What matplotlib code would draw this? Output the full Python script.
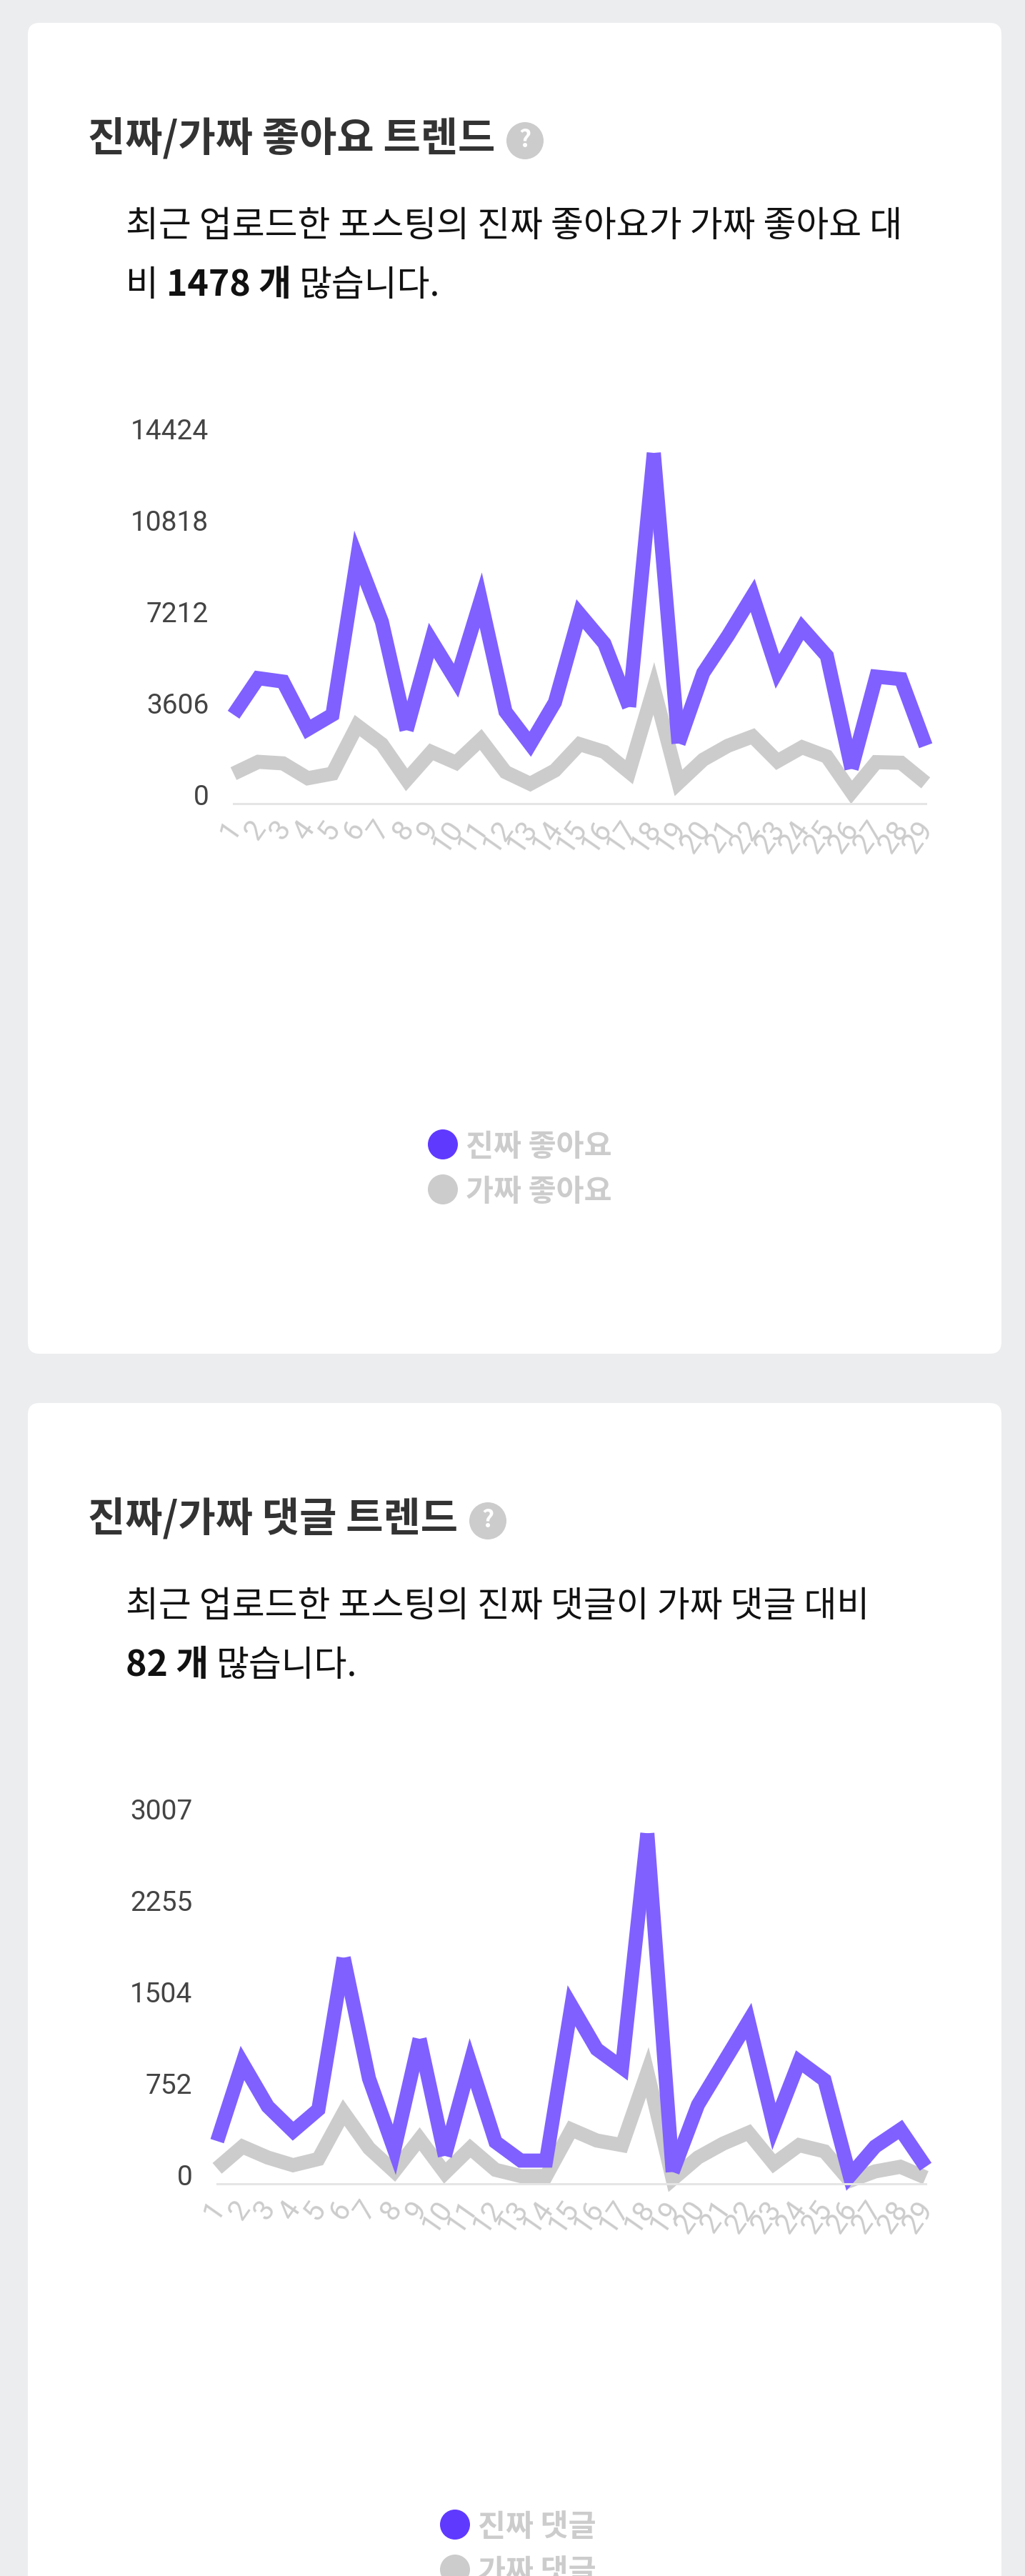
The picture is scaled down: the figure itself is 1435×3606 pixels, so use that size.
import matplotlib
matplotlib.use('Agg')
import numpy as np
from matplotlib import pyplot as plt
from matplotlib.patches import FancyBboxPatch, Circle
from matplotlib.transforms import ScaledTranslation

plt.rcParams['font.family'] = ['Noto Sans CJK KR', 'DejaVu Sans']

days = list(range(1, 30))
day_labels = [str(d) for d in days]

# 좋아요 차트
like_real = [3507, 4949, 4815, 2933, 3507, 9703, 7173, 2896, 6440, 4851, 8029, 3629, 2346, 3996, 7479,
             6318, 3813, 13833, 2371, 5157, 6623, 8212, 5218, 6929, 5829, 1369, 5010, 4912, 2285]
like_fake = [1185, 1650, 1589, 1002, 1185, 3079, 2346, 941, 2041, 1613, 2530, 1246, 782, 1308, 2346,
             2041, 1246, 4546, 819, 1735, 2285, 2652, 1674, 2224, 1857, 452, 1637, 1613, 819]
like_ticks = [0, 3606, 7212, 10818, 14424]

# 댓글 차트
comment_real = [351, 993, 636, 433, 611, 1859, 866, 280, 1192, 229, 993, 344, 191, 191, 1464,
                1107, 955, 2882, 97, 649, 993, 1337, 471, 1006, 853, 64, 306, 446, 140]
comment_fake = [127, 306, 216, 153, 204, 586, 293, 102, 369, 89, 293, 115, 64, 64, 446,
                356, 318, 917, 38, 216, 331, 420, 165, 318, 267, 25, 102, 140, 51]
comment_ticks = [0, 752, 1504, 2255, 3007]

W, H = 1435, 3606
PURPLE = '#8060FF'
PURPLE_DOT = '#6039FF'
GRAY = '#CCCCCC'
LINE_W = 14.2

fig = plt.figure(figsize=(W / 100, H / 100), dpi=100, facecolor='#ECEDEF')
bg = fig.add_axes([0, 0, 1, 1])
bg.set_xlim(0, W)
bg.set_ylim(H, 0)
bg.axis('off')


def inline(x, y, parts):
    # 굵은 글씨가 섞인 한 줄, 조각별로 폭을 재서 이어 붙임
    rend = fig.canvas.get_renderer()
    for s, weight in parts:
        if s == ' ':
            x += 11
            continue
        t = bg.text(x, y, s, fontsize=35.95, color='#111111', fontweight=weight, va='center', ha='left')
        x += t.get_window_extent(rend).width


def draw_line(ax, vals, color, sx, sy):
    # miter limit 4 흉내: 너무 뾰족한 꼭짓점에서 선을 끊어 뭉툭하게 그림
    px = np.column_stack([np.array(days) * sx, np.array(vals) * sy])
    start = 0
    for i in range(1, len(days) - 1):
        a = px[i - 1] - px[i]
        b = px[i + 1] - px[i]
        cos_t = np.dot(a, b) / (np.linalg.norm(a) * np.linalg.norm(b))
        theta = np.arccos(np.clip(cos_t, -1, 1))
        if 1 / np.sin(theta / 2) > 4:
            ax.plot(days[start:i + 1], vals[start:i + 1], color=color, lw=LINE_W, solid_joinstyle='miter',
                    solid_capstyle='butt', clip_on=False)
            start = i
    ax.plot(days[start:], vals[start:], color=color, lw=LINE_W, solid_joinstyle='miter',
            solid_capstyle='butt', clip_on=False)


def card(top, bottom, title, help_x, line1, line2, ticks, real, fake, left, legend_x, names):
    bg.add_patch(FancyBboxPatch((39 + 16, top + 16), 1363 - 32, bottom - top - 32,
                                boxstyle='round,pad=16,rounding_size=16', fc='white', ec='none'))
    bg.text(123, top + 163, title, fontsize=40.9, fontweight='bold', color='#333333', va='center')
    bg.add_patch(Circle((help_x, top + 165), 26, fc=GRAY, ec='none'))
    bg.text(help_x, top + 165, '?', fontsize=24, fontweight='bold', color='white', ha='center', va='center')
    inline(176, top + 285, line1)
    inline(176, top + 368, line2)

    # 0 이 1125px, 최고 눈금이 512px 위
    base = top + 1093
    ax = fig.add_axes([left / W, 1 - base / H, (1296 - left) / W, 512 / H])
    ax.patch.set_alpha(0)
    sx = (1296 - left) / 28
    sy = 512 / ticks[-1]
    draw_line(ax, fake, GRAY, sx, sy)
    draw_line(ax, real, PURPLE, sx, sy)
    ax.set_xlim(1, 29)
    ax.set_ylim(0, ticks[-1])
    for s in ['top', 'left', 'right']:
        ax.spines[s].set_visible(False)
    ax.spines['bottom'].set_color('#E5E5E5')
    ax.spines['bottom'].set_linewidth(2.2)
    ax.set_yticks(ticks)
    ax.set_yticklabels([str(v) for v in ticks], fontsize=28, family='Roboto', color='#444444', va='baseline')
    ax.set_xticks(days)
    ax.set_xticklabels(day_labels, fontsize=29, family='Roboto', color=GRAY, rotation=55,
                       ha='right', va='top', rotation_mode='anchor')
    ax.tick_params(axis='y', length=0, pad=25)
    ax.tick_params(axis='x', length=0, pad=12)
    for lab in ax.get_xticklabels():
        lab.set_transform(lab.get_transform() + ScaledTranslation(-14 / 100, 0, fig.dpi_scale_trans))
    for lab in ax.get_yticklabels():
        lab.set_transform(lab.get_transform() + ScaledTranslation(0, -2 / 100, fig.dpi_scale_trans))

    for i, (name, c) in enumerate(zip(names, [PURPLE_DOT, GRAY])):
        y = top + 1570 + i * 63
        bg.add_patch(Circle((legend_x, y), 21, fc=c, ec='none'))
        bg.text(legend_x + 32, y + 4, name, fontsize=30.5, fontweight='bold', color=GRAY, va='center')


card(32, 1895, '진짜/가짜 좋아요 트렌드', 735,
     [('최근 업로드한 포스팅의 진짜 좋아요가 가짜 좋아요 대', 'normal')],
     [('비', 'normal'), (' ', 'normal'), ('1478 개', 'bold'), (' ', 'normal'), ('많습니다.', 'normal')],
     like_ticks, like_real, like_fake, 327, 620, ['진짜 좋아요', '가짜 좋아요'])
card(1964, 3700, '진짜/가짜 댓글 트렌드', 683,
     [('최근 업로드한 포스팅의 진짜 댓글이 가짜 댓글 대비', 'normal')],
     [('82 개', 'bold'), (' ', 'normal'), ('많습니다.', 'normal')],
     comment_ticks, comment_real, comment_fake, 304, 637, ['진짜 댓글', '가짜 댓글'])

fig.savefig('out.png', dpi=100, facecolor=fig.get_facecolor())
